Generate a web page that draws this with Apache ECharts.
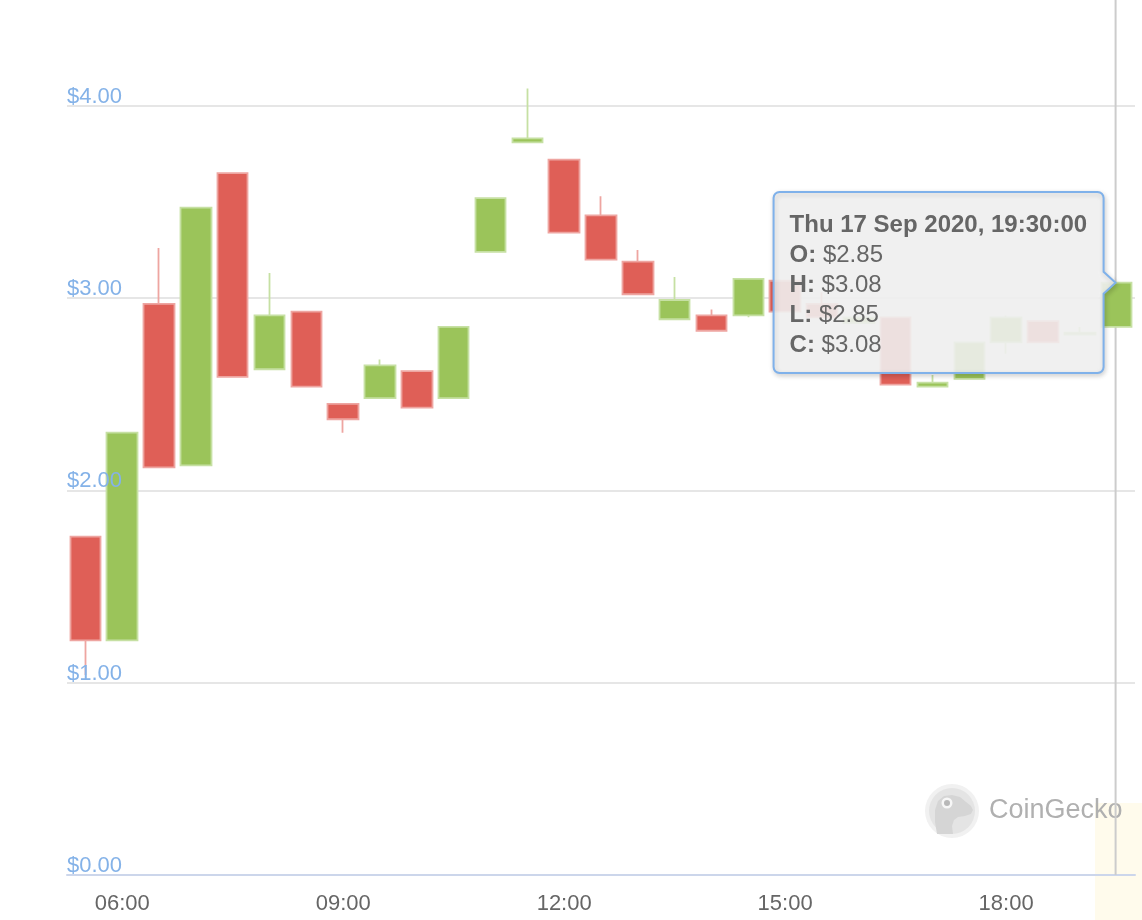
<!DOCTYPE html>
<html><head><meta charset="utf-8">
<script src="https://cdn.jsdelivr.net/npm/echarts@6/dist/echarts.min.js"></script>
<style>html,body{margin:0;padding:0;background:#fff}#c{width:1142px;height:920px}</style>
</head><body><div id="c"></div>
<script>
// ---- data ----
const times = ['05:30','06:00','06:30','07:00','07:30','08:00','08:30','09:00','09:30','10:00',
  '10:30','11:00','11:30','12:00','12:30','13:00','13:30','14:00','14:30','15:00',
  '15:30','16:00','16:30','17:00','17:30','18:00','18:30','19:00','19:30'];
const openP  = [1.76,1.22,2.97,2.13,3.65,2.63,2.93,2.45,2.48,2.62,2.48,3.24,3.81,3.72,3.43,3.19,2.89,2.91,2.91,3.09,2.97,2.87,2.90,2.54,2.58,2.77,2.88,2.81,2.85];
const closeP = [1.22,2.30,2.12,3.47,2.59,2.91,2.54,2.37,2.65,2.43,2.85,3.52,3.83,3.34,3.20,3.02,2.99,2.83,3.10,2.93,2.90,2.90,2.55,2.56,2.77,2.90,2.77,2.82,3.08];
const lowP   = [1.04,1.22,2.12,2.13,2.59,2.63,2.54,2.30,2.48,2.43,2.48,3.24,3.81,3.34,3.20,3.02,2.89,2.83,2.90,2.93,2.90,2.87,2.55,2.54,2.58,2.71,2.77,2.81,2.85];
const highP  = [1.76,2.30,3.26,3.47,3.65,3.13,2.93,2.45,2.68,2.62,2.85,3.52,4.09,3.72,3.53,3.25,3.11,2.94,3.10,3.09,3.03,2.90,2.90,2.60,2.77,2.91,2.88,2.85,3.08];
const xTickLabels = ['06:00','09:00','12:00','15:00','18:00'];
const yTickValues = [0,1,2,3,4];
const tooltipDate = 'Thu 17 Sep 2020';
const tooltipIndex = 28;

const FONT = "'Liberation Sans', Arial, Helvetica, sans-serif";
const candles = times.map((t, i) => [openP[i], closeP[i], lowP[i], highP[i]]);
const fmt = v => '$' + v.toFixed(2);

const yBase = {type: 'value', min: 0, max: 4.55, interval: 1, axisLine: {show: false}, axisTick: {show: false}};

const chart = echarts.init(document.getElementById('c'), null, {renderer: 'canvas'});
chart.setOption({
  animation: false,
  backgroundColor: '#ffffff',
  grid: {left: 67, right: 7, top: 0, bottom: 45, containLabel: false},
  xAxis: {
    type: 'category', data: times, boundaryGap: true,
    axisLine: {lineStyle: {color: '#ccd6eb', width: 2}},
    axisTick: {alignWithLabel: true, length: 15, lineStyle: {color: '#ccd6eb', width: 2},
      interval: (i, v) => xTickLabels.includes(v)},
    axisLabel: {interval: (i, v) => xTickLabels.includes(v), color: '#666666',
      fontSize: 22, fontFamily: FONT, margin: 18},
    splitLine: {show: false}
  },
  yAxis: [
    Object.assign({}, yBase, {
      axisLabel: {show: false},
      splitLine: {show: true, showMaxLine: false, lineStyle: {color: '#e6e6e6', width: 2}}
    }),
    Object.assign({}, yBase, {
      position: 'left', z: 20,
      axisLabel: {inside: true, margin: 0, verticalAlign: 'bottom', lineHeight: 18, color: '#84b2e8',
        fontSize: 22, fontFamily: FONT, showMaxLabel: false,
        formatter: v => yTickValues.includes(v) ? fmt(v) : ''},
      splitLine: {show: false}
    })
  ],
  series: [{
    type: 'candlestick', data: candles, barWidth: 31, z: 2,
    itemStyle: {color: '#9bc45a', color0: '#df5f57', borderColor: '#c6e0a3', borderColor0: '#eea5a1', borderWidth: 1.8},
    emphasis: {disabled: true}
  }]
});

// ---- overlays (tooltip, crosshair, watermark) positioned via the chart's scales ----
const tip = chart.convertToPixel({gridIndex: 0}, [times[tooltipIndex], closeP[tooltipIndex]]);
const gridBottom = chart.convertToPixel({gridIndex: 0}, [times[0], 0])[1];
const tx = tip[0] - 1, ty = tip[1];
const R = tx - 12, L = R - 330, T = 192, B = T + 181, rr = 6, ah = 11;

function corner(cx, cy, a0) {
  const pts = [];
  for (let k = 0; k <= 4; k++) {
    const a = a0 + (Math.PI / 2) * k / 4;
    pts.push([cx + rr * Math.cos(a), cy + rr * Math.sin(a)]);
  }
  return pts;
}
const boxPts = [].concat(
  corner(L + rr, T + rr, Math.PI),
  corner(R - rr, T + rr, -Math.PI / 2),
  [[R, ty - ah], [tx, ty], [R, ty + ah]],
  corner(R - rr, B - rr, 0),
  corner(L + rr, B - rr, Math.PI / 2)
);

const ttText = `{h|${tooltipDate}, ${times[tooltipIndex]}:00}\n{b|O:} {n|${fmt(openP[tooltipIndex])}}\n{b|H:} {n|${fmt(highP[tooltipIndex])}}\n{b|L:} {n|${fmt(lowP[tooltipIndex])}}\n{b|C:} {n|${fmt(closeP[tooltipIndex])}}`;

const headPts = [[937,834],[935,822],[935,810],[938,801],[944,796],[952,795],[960,797],[966,802],[971,806],[973,810],[971,814],[965,816],[958,817],[954,820],[952,826],[953,834]];

chart.setOption({
  graphic: [
    {type: 'rect', z: -10, silent: true, shape: {x: 1095, y: 803, width: 47, height: 117},
      style: {fill: '#fffbec'}},
    {type: 'line', z: 1, silent: true, shape: {x1: tx, y1: 0, x2: tx, y2: gridBottom},
      style: {stroke: '#cccccc', lineWidth: 2}},
    // watermark
    {type: 'circle', z: 0, silent: true, shape: {cx: 952, cy: 811, r: 27}, style: {fill: '#f1f1f1'}},
    {type: 'circle', z: 0, silent: true, shape: {cx: 952, cy: 811, r: 23}, style: {fill: '#e4e4e4'}},
    {type: 'polygon', z: 0, silent: true, shape: {points: headPts}, style: {fill: '#d5d5d5'}},
    {type: 'circle', z: 0, silent: true, shape: {cx: 947, cy: 803, r: 5.5}, style: {fill: '#f7f7f7'}},
    {type: 'circle', z: 0, silent: true, shape: {cx: 947, cy: 803, r: 3}, style: {fill: '#b8b8b8'}},
    {type: 'text', z: 0, silent: true, x: 989, y: 811,
      style: {text: 'CoinGecko', fill: '#b0b0b0', font: `27px ${FONT}`, verticalAlign: 'middle', align: 'left'}},
    // tooltip
    {type: 'polygon', z: 100, silent: true, shape: {points: boxPts},
      style: {fill: 'rgba(244,244,244,0.88)', stroke: '#7fb1ea', lineWidth: 2,
        shadowBlur: 5, shadowColor: 'rgba(0,0,0,0.18)', shadowOffsetX: 1, shadowOffsetY: 2}},
    {type: 'text', z: 101, silent: true, x: L + 16, y: T + 18,
      style: {text: ttText, verticalAlign: 'top', align: 'left', fill: '#666666',
        font: `24px ${FONT}`,
        rich: {
          h: {fontSize: 24, fontWeight: 'bold', fontFamily: FONT, fill: '#666666', lineHeight: 30},
          b: {fontSize: 24, fontWeight: 'bold', fontFamily: FONT, fill: '#666666', lineHeight: 30},
          n: {fontSize: 24, fontFamily: FONT, fill: '#666666', lineHeight: 30}
        }}}
  ]
});
</script></body></html>
